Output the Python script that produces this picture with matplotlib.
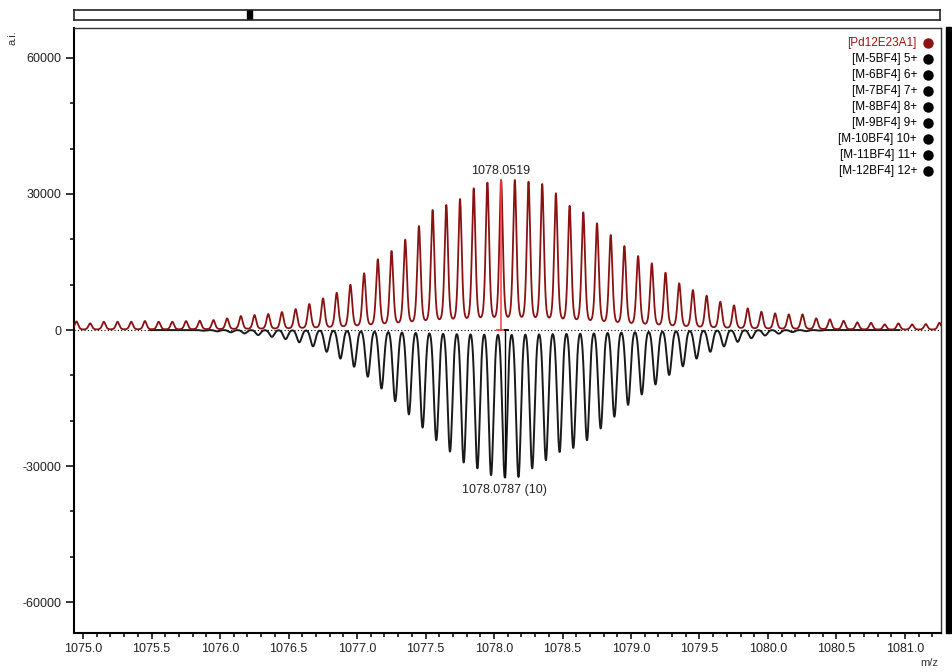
import numpy as np
import matplotlib
matplotlib.use("Agg")
import matplotlib.pyplot as plt
from matplotlib.patches import Rectangle
from matplotlib.ticker import MultipleLocator, FormatStrFormatter

plt.rcParams['font.family'] = ['Liberation Sans', 'DejaVu Sans']
plt.rcParams['axes.unicode_minus'] = False

#Data: isotope peaks spaced 0.1 m/z (charge 10+)
spacing = 0.1

#Measured (red) trace
red_mono = 1078.0519
red_index = np.arange(-31, 33)
red_tops = np.array([1900, 1480, 1830, 1830, 1830, 1990, 1830, 1830, 1990, 2060, 2210,
                     2570, 3090, 3310, 3530, 3970, 4630, 5740, 6990, 8230, 9990,
                     12510, 15600, 17430, 19930, 22940, 26470, 27580, 28900, 31260, 32490,
                     33090, 33090, 32720, 32210, 30160, 27420, 25960, 23540, 20960, 18530,
                     16320, 14710, 12640, 10300, 8820, 7570, 6240, 5440, 4790, 4040,
                     3680, 3460, 3460, 2580, 2360, 2050, 1700, 1600, 1250, 1470,
                     1250, 1320, 1600])

#Simulated (black) trace, plotted downwards
black_mono = 1078.0787
black_index = np.arange(-22, 24)
black_tops = np.array([150, 300, 500, 750, 1100, 1500, 2000, 2700, 3600, 4800,
                       6300, 8100, 10300, 12900, 15700, 18600, 21500, 24300, 26800, 29200,
                       30500, 32000, 32500, 32400, 30500, 28700, 26900, 26000, 24300, 21700,
                       19100, 16500, 14200, 12000, 9900, 8000, 6300, 4800, 3600, 2600,
                       1800, 1200, 800, 450, 250, 120])

legend_names = ["[Pd12E23A1]", "[M-5BF4] 5+", "[M-6BF4] 6+", "[M-7BF4] 7+", "[M-8BF4] 8+",
                "[M-9BF4] 9+", "[M-10BF4] 10+", "[M-11BF4] 11+", "[M-12BF4] 12+"]

red_col = "#8b1212"


def pvoigt(d, fwhm, eta):
    g = np.exp(-4 * np.log(2) * (d / fwhm) ** 2)
    l = 1 / (1 + 4 * (d / fwhm) ** 2)
    return eta * l + (1 - eta) * g


def profile(x, centers, tops, fwhm, eta):
    #peak heights chosen so that the summed curve passes through the read tops
    m = pvoigt(centers[:, None] - centers[None, :], fwhm, eta)
    heights = np.linalg.solve(m, tops)
    return pvoigt(x[:, None] - centers[None, :], fwhm, eta) @ heights


red_centers = red_mono + spacing * red_index
black_centers = black_mono + spacing * black_index

xlim = (1074.934, 1081.263)
x_red = np.linspace(xlim[0], xlim[1], 8000)
y_red = profile(x_red, red_centers, red_tops.astype(float), 0.03, 0.45)
x_black = np.linspace(1075.49, 1080.96, 7000)
y_black = -profile(x_black, black_centers, black_tops.astype(float), 0.041, 0.0)

#Figure
fig = plt.figure(figsize=(9.52, 6.72), dpi=100)
ax = fig.add_axes([74 / 952, 1 - 633 / 672, 867 / 952, 605 / 672])

ax.axhline(0, color="k", lw=0.8, ls=(0, (1, 2)), zorder=1)
ax.plot(x_black, y_black, color="#1a1a1a", lw=1.4, zorder=2)
ax.plot(x_red, y_red, color=red_col, lw=1.3, zorder=3)

#Peak markers
red_peak = red_tops[red_index == 0][0]
black_peak = -black_tops[black_index == 0][0]
ax.plot([red_mono, red_mono], [0, red_peak], color="#ff3c3c", lw=1.1, zorder=4)
ax.plot([red_mono - 0.027, black_mono], [0, 0], color="#ff3c3c", lw=1.3, zorder=4)
ax.plot([black_mono, black_mono], [0, black_peak], color="k", lw=1.0, zorder=4)
ax.plot([black_mono, black_mono + 0.022], [0, 0], color="k", lw=1.3, zorder=4)
ax.annotate(f"{red_mono:.4f}", (red_mono, red_peak), xytext=(0, 2), textcoords="offset points",
            ha="center", va="bottom", fontsize=9, color="#222222")
ax.annotate(f"{black_mono:.4f} (10)", (black_mono, black_peak), xytext=(0, -5), textcoords="offset points",
            ha="center", va="top", fontsize=9, color="#222222")

#Axes details
ax.set_xlim(xlim)
ax.set_ylim(-66800, 66600)
ax.xaxis.set_major_locator(MultipleLocator(0.5))
ax.xaxis.set_minor_locator(MultipleLocator(0.1))
ax.xaxis.set_major_formatter(FormatStrFormatter("%.1f"))
ax.yaxis.set_major_locator(MultipleLocator(30000))
ax.yaxis.set_minor_locator(MultipleLocator(10000))
ax.tick_params(axis="both", which="major", direction="out", width=1.1, labelsize=9,
               labelcolor="#222222", pad=3)
ax.tick_params(axis="x", which="major", length=4.5)
ax.tick_params(axis="y", which="major", length=5.8)
ax.tick_params(axis="both", which="minor", direction="out", width=1.1, length=3)
for side in ["left", "bottom"]:
    ax.spines[side].set_linewidth(1.5)
for side in ["top", "right"]:
    ax.spines[side].set_linewidth(1.0)
    ax.spines[side].set_color("#333333")

fig.text(12 / 952, 1 - 38 / 672, "a.i.", rotation=90, ha="center", va="center", fontsize=8, color="#333333")
fig.text(929 / 952, 1 - 663 / 672, "m/z", ha="center", va="center", fontsize=8, color="#333333")

#Legend list at the top right
for i, name in enumerate(legend_names):
    yy = 1 - (43 + 16 * i) / 672
    col = "#a01010" if i == 0 else "k"
    fig.text(917 / 952, yy, name, ha="right", va="center", fontsize=8.5, color=col)
    ax.plot([928 / 952], [yy], "o", ms=6.5, color=(red_col if i == 0 else "k"),
            transform=fig.transFigure, clip_on=False)

#Overview bar above the plot
ax_bar = fig.add_axes([74 / 952, 1 - 19.5 / 672, 866 / 952, 9.5 / 672])
ax_bar.set_xlim(0, 1)
ax_bar.set_ylim(0, 1)
ax_bar.set_xticks([])
ax_bar.set_yticks([])
for s in ax_bar.spines.values():
    s.set_linewidth(1.2)
    s.set_color("#222222")
ax_bar.add_patch(Rectangle((0.1998, 0), 0.0058, 1, color="k"))

#Black strip at the right edge
fig.add_artist(Rectangle((946 / 952, 1 - 633 / 672), 5 / 952, 606 / 672,
                         transform=fig.transFigure, color="k"))

plt.savefig("out.png", dpi=100)
